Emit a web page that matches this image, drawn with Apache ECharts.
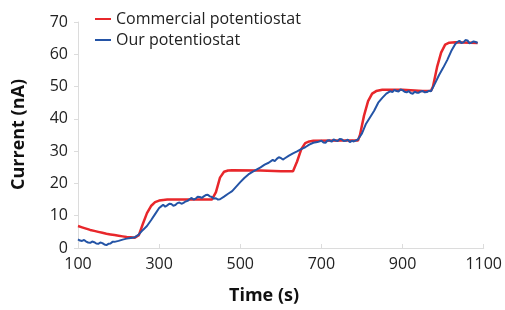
<!DOCTYPE html>
<html>
<head>
<meta charset="utf-8">
<script src="https://cdn.jsdelivr.net/npm/echarts@6/dist/echarts.min.js"></script>
<style>
  html, body { margin: 0; padding: 0; background: #fff; }
  #chart1 { width: 505px; height: 310px; }
</style>
</head>
<body>
<div id="chart1"></div>
<script>
// time (s) and current (nA)
var redTime = [100, 110, 120, 130, 140, 150, 160, 170, 180, 190, 200, 210, 220, 230, 240, 250, 260, 270, 280, 290,
    300, 310, 320, 350, 400, 430, 440, 450, 460, 470, 480, 550, 600, 630, 640, 650, 660, 670, 680, 750,
    790, 795, 805, 815, 825, 835, 850, 900, 950, 970, 975, 985, 995, 1005, 1015, 1030, 1085];
var redCurrent = [6.8, 6.4, 6.0, 5.6, 5.3, 5.0, 4.7, 4.4, 4.2, 4.0, 3.8, 3.6, 3.4, 3.3, 3.2, 4.0, 7.5, 10.8, 13.0, 14.2,
    14.7, 14.9, 15.0, 15.0, 15.0, 15.0, 17.3, 21.8, 23.6, 24.0, 24.1, 24.0, 23.8, 23.8, 26.8, 30.5, 32.5, 33.0, 33.2, 33.3,
    33.3, 35.0, 41.0, 45.5, 47.8, 48.6, 49.0, 49.0, 48.6, 48.7, 50.0, 56.0, 60.5, 63.0, 63.6, 63.7, 63.5];

var blueTime = [100, 105, 110, 115, 120, 125, 130, 135, 140, 145, 150, 155, 160, 165, 170, 175, 180, 185, 190, 200,
    210, 220, 230, 240, 250, 260, 270, 280, 290, 300, 305, 310, 315, 320, 325, 330, 335, 340, 345, 350,
    355, 360, 365, 370, 375, 380, 385, 390, 395, 400, 405, 410, 415, 420, 425, 430, 435, 440, 445, 450,
    460, 470, 480, 490, 500, 510, 520, 530, 540, 550, 560, 570, 580, 585, 590, 595, 600, 605, 610, 620,
    630, 640, 650, 660, 670, 680, 690, 700, 705, 710, 715, 720, 725, 730, 735, 740, 745, 750, 755, 760,
    765, 770, 775, 780, 790, 800, 810, 820, 830, 840, 850, 860, 870, 875, 880, 885, 890, 895, 900, 905,
    910, 915, 920, 925, 930, 935, 940, 945, 950, 955, 960, 965, 970, 980, 990, 1000, 1010, 1020, 1030, 1035,
    1040, 1045, 1050, 1055, 1060, 1065, 1070, 1075, 1080, 1085];
var blueCurrent = [2.7, 2.3, 2.2, 2.5, 2.0, 1.7, 1.6, 2.0, 1.8, 1.4, 1.3, 1.7, 1.5, 1.1, 0.9, 1.3, 1.4, 1.9, 1.9, 2.2,
    2.6, 2.9, 3.1, 3.3, 4.2, 5.6, 6.8, 8.6, 10.5, 12.4, 12.9, 13.4, 12.8, 13.2, 13.7, 13.6, 13.1, 13.3, 13.9, 14.1,
    13.7, 14.0, 14.4, 14.6, 15.1, 15.5, 15.0, 15.3, 15.9, 15.8, 15.5, 16.0, 16.4, 16.5, 16.0, 15.8, 15.3, 15.4, 15.0, 15.1,
    15.9, 16.8, 17.6, 19.0, 20.4, 21.7, 22.8, 23.6, 24.3, 25.0, 25.8, 26.4, 27.3, 26.9, 27.6, 28.1, 27.9, 27.4, 27.8, 28.6,
    29.3, 29.9, 30.6, 31.2, 32.0, 32.6, 32.8, 33.2, 32.7, 32.6, 33.3, 33.4, 32.9, 33.6, 33.3, 33.1, 33.8, 33.7, 33.1, 33.2,
    33.6, 32.8, 33.2, 33.0, 33.6, 35.5, 38.5, 40.5, 42.5, 45.0, 46.5, 47.8, 48.6, 48.3, 49.0, 48.6, 48.5, 49.1, 48.9, 48.4,
    48.2, 48.6, 48.0, 47.8, 48.4, 48.1, 48.1, 48.5, 48.6, 48.2, 48.3, 48.7, 48.5, 51.0, 53.6, 55.8, 58.2, 61.0, 63.2, 63.8,
    64.2, 63.5, 63.7, 64.4, 64.3, 63.4, 63.6, 64.0, 63.8, 63.5];

var xTicks = [100, 300, 500, 700, 900, 1100];
var yTicks = [0, 10, 20, 30, 40, 50, 60, 70];

function pairs(xs, ys) {
    return xs.map(function (x, i) { return [x, ys[i]]; });
}

var chart1 = echarts.init(document.getElementById('chart1'));
var font = "'Open Sans', sans-serif";
var option = {
    animation: false,
    textStyle: { fontFamily: font },
    grid: { left: 78, right: 17, top: 22, bottom: 62 },
    legend: {
        orient: 'vertical',
        left: 90, top: 6,
        itemWidth: 16, itemHeight: 2, itemGap: 5,
        icon: 'rect',
        textStyle: { fontSize: 16, color: '#222', fontFamily: font },
        data: ['Commercial potentiostat', 'Our potentiostat']
    },
    xAxis: {
        type: 'value',
        min: xTicks[0], max: xTicks[xTicks.length - 1], interval: 200,
        axisLine: { lineStyle: { color: '#dcdcdc' } },
        axisTick: { inside: true, length: 4, lineStyle: { color: '#dcdcdc' } },
        splitLine: { show: false },
        axisLabel: {
            fontSize: 16, color: '#222', margin: 8, fontFamily: font,
            formatter: function (v) { return String(v); }
        }
    },
    yAxis: {
        type: 'value',
        min: yTicks[0], max: yTicks[yTicks.length - 1], interval: 10,
        axisLine: { show: true, lineStyle: { color: '#dcdcdc' } },
        axisTick: { show: true, length: 4, lineStyle: { color: '#dcdcdc' } },
        splitLine: { show: false },
        axisLabel: { fontSize: 16, color: '#222', margin: 10, fontFamily: font }
    },
    graphic: [
        {
            type: 'text', left: 229, top: 287,
            style: { text: 'Time (s)', font: "bold 18px 'Open Sans', sans-serif", fill: '#111' }
        },
        {
            type: 'text', x: 10, y: 190, rotation: Math.PI / 2,
            style: { text: 'Current (nA)', font: "bold 18px 'Open Sans', sans-serif", fill: '#111' }
        }
    ],
    series: [
        {
            name: 'Commercial potentiostat', type: 'line', showSymbol: false,
            data: pairs(redTime, redCurrent),
            lineStyle: { color: '#e8272b', width: 2.5 },
            itemStyle: { color: '#e8272b' }
        },
        {
            name: 'Our potentiostat', type: 'line', showSymbol: false,
            data: pairs(blueTime, blueCurrent),
            lineStyle: { color: '#2454a6', width: 2 },
            itemStyle: { color: '#2454a6' }
        }
    ]
};
chart1.setOption(option);
</script>
</body>
</html>
